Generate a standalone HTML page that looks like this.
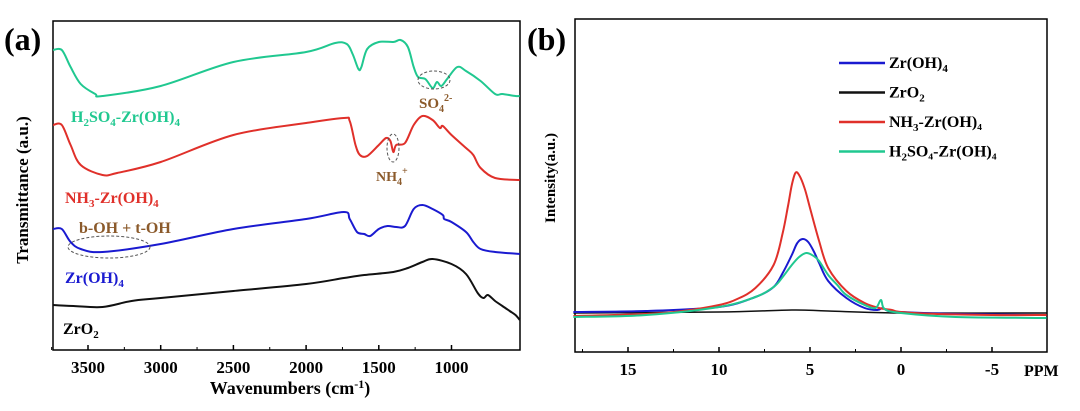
<!DOCTYPE html>
<html><head><meta charset="utf-8"><style>
body{margin:0;background:#fff;}
svg text{font-family:"Liberation Serif",serif;font-weight:bold;}
</style></head><body>
<svg id="c" width="1080" height="406" viewBox="0 0 1080 406" xmlns="http://www.w3.org/2000/svg">
<text x="4" y="50" font-size="32">(a)</text>
<text x="527" y="50" font-size="32">(b)</text>
<rect x="53" y="21" width="467" height="329" fill="none" stroke="#000" stroke-width="1.5"/>
<rect x="575" y="19" width="472" height="333" fill="none" stroke="#000" stroke-width="1.5"/>
<g id="axA"></g><g id="axB"></g><g id="linesA"></g><g id="linesB"></g>
<text transform="translate(28,190) rotate(-90)" text-anchor="middle" font-size="17">Transmittance (a.u.)</text>
<text x="290" y="394" text-anchor="middle" font-size="18">Wavenumbers (cm<tspan dy="-6" font-size="12">-1</tspan><tspan dy="6">)</tspan></text>
<text transform="translate(555,178) rotate(-90)" text-anchor="middle" font-size="15">Intensity(a.u.)</text>
<text x="1024" y="376" font-size="16">PPM</text>
<text x="71" y="122" font-size="16" fill="#20c890">H<tspan font-size="11" dy="4">2</tspan><tspan dy="-4">SO</tspan><tspan font-size="11" dy="4">4</tspan><tspan dy="-4">-Zr(OH)</tspan><tspan font-size="11" dy="4">4</tspan></text>
<text x="65" y="203" font-size="16" fill="#e0302a">NH<tspan font-size="11" dy="4">3</tspan><tspan dy="-4">-Zr(OH)</tspan><tspan font-size="11" dy="4">4</tspan></text>
<text x="79" y="233" font-size="16" fill="#8b5a2b">b-OH + t-OH</text>
<text x="65" y="283" font-size="16" fill="#1a1ad0">Zr(OH)<tspan font-size="11" dy="4">4</tspan></text>
<text x="63" y="334" font-size="16" fill="#000">ZrO<tspan font-size="11" dy="4">2</tspan></text>
<text x="419" y="108" font-size="15" fill="#8b5a2b">SO<tspan font-size="10" dy="4">4</tspan><tspan font-size="10" dy="-11">2-</tspan></text>
<text x="376" y="181" font-size="14" fill="#8b5a2b">NH<tspan font-size="10" dy="4">4</tspan><tspan font-size="10" dy="-11">+</tspan></text>
<ellipse cx="434" cy="80" rx="16" ry="9" fill="none" stroke="#555" stroke-dasharray="3,2"/>
<ellipse cx="393" cy="148" rx="6" ry="14" fill="none" stroke="#555" stroke-dasharray="3,2"/>
<ellipse cx="109" cy="247" rx="41" ry="11" fill="none" stroke="#555" stroke-dasharray="3,2"/>
<g id="legend"></g>
</svg>
<script>
const NS="http://www.w3.org/2000/svg";
// Panel A data
const wnA=[3740,3680,3620,3550,3450,3400,3000,2500,2000,1800,1720,1680,1640,1620,1580,1500,1400,1350,1300,1260,1230,1180,1130,1100,1070,1030,960,900,800,700,650,560,530];
const h2so4A=[300,300,283,266,256,254,264,288,298,307,306,296,281,283,301,308,308,310,303,283,273,271,262,268,264,271,283,279,269,256,256,254,254];
const wnRed=[3740,3680,3620,3550,3400,3300,3000,2500,2000,1740,1700,1660,1630,1580,1500,1450,1420,1400,1380,1320,1260,1200,1130,1080,1060,1000,900,850,800,700,530];
const nh3A=[225,225,205,185,175,177,188,215,227,232,229,205,195,194,205,212,209,198,205,207,225,234,230,222,224,215,202,195,182,172,170];
const wnBlue=[3740,3680,3620,3550,3400,3000,2500,2000,1740,1700,1650,1600,1560,1500,1440,1380,1320,1260,1200,1130,1060,1050,1000,900,850,800,700,530];
const zrohA=[121,121,108,101,98,106,121,131,138,131,118,116,114,121,124,123,124,141,145,141,135,131,128,118,108,101,98,96];
const wnBlack=[3740,3600,3400,3200,3000,2500,2000,1740,1600,1400,1300,1200,1130,1000,900,820,780,750,700,650,600,560,530];
const zro2A=[45,44,43,49,52,59,66,72,75,78,82,88,91,86,76,57,52,55,49,44,39,35,30];
const ticksA=[3500,3000,2500,2000,1500,1000];
// Panel B data
const ppmR=[18,14,12,10,9,8,7,6.5,6.2,6,5.8,5.6,5.3,5,4.5,4,3,2,1.2,0.5,0,-2,-5,-8];
const nh3B=[-3,-1,2,8,14,25,48,80,108,128,140,138,125,105,72,45,22,10,5,3,1,-1,-2,-2];
const ppmBl=[18,14,10,8,7,6.5,6,5.7,5.4,5.1,4.8,4.5,4,3,2,1.3,1.0,0.7,0,-3,-8];
const zrohB=[1,2,6,16,26,40,58,70,74,71,62,50,32,15,5,3,5,2,1,-1,-2];
const ppmG=[18,14,10,8,7,6.5,6,5.6,5.2,4.8,4.5,4,3.5,3,2,1.4,1.1,0.9,0,-3,-8];
const h2so4B=[-4,-2,6,16,26,36,48,56,60,57,52,38,28,18,8,5,13,4,0,-4,-5];
const ppmK=[18,10,6,4,0,-8];
const zro2B=[0,1,3,2,0,0];
const ticksB=[15,10,5,0,-5];

const xA=w=>88+(3500-w)*72.7/500;
const yA=v=>350-v;
const xB=p=>901-p*18.2;
const yB=v=>313-v;

function smooth(pts){
  let d="M"+pts[0][0].toFixed(1)+","+pts[0][1].toFixed(1);
  for(let i=0;i<pts.length-1;i++){
    const p0=pts[i-1]||pts[i],p1=pts[i],p2=pts[i+1],p3=pts[i+2]||p2;
    const c1=[p1[0]+(p2[0]-p0[0])/6,p1[1]+(p2[1]-p0[1])/6];
    const c2=[p2[0]-(p3[0]-p1[0])/6,p2[1]-(p3[1]-p1[1])/6];
    d+="C"+c1.map(v=>v.toFixed(1))+" "+c2.map(v=>v.toFixed(1))+" "+p2.map(v=>v.toFixed(1));
  }
  return d;
}
function path(g,xs,ys,fx,fy,col,name,w){
  const p=document.createElementNS(NS,"path");
  p.setAttribute("d",smooth(xs.map((x,i)=>[fx(x),fy(ys[i])])));
  p.setAttribute("fill","none");p.setAttribute("stroke",col);p.setAttribute("stroke-width",w||2);p.setAttribute("stroke-linejoin","round");
  
  
  document.getElementById(g).appendChild(p);
}
function ticks(g,vals,fx,yb,prefix,minorStep){
  const G=document.getElementById(g);
  vals.forEach(v=>{
    const l=document.createElementNS(NS,"line");
    l.setAttribute("x1",fx(v));l.setAttribute("x2",fx(v));l.setAttribute("y1",yb);l.setAttribute("y2",yb-5);l.setAttribute("stroke","#000");l.setAttribute("stroke-width","1.5");
    
    
    G.appendChild(l);
    const t=document.createElementNS(NS,"text");
    t.setAttribute("x",fx(v));t.setAttribute("y",yb+23);t.setAttribute("text-anchor","middle");t.setAttribute("font-size","17");
    t.textContent=v;
    
    
    G.appendChild(t);
    const m=document.createElementNS(NS,"line");
    const mv=v+minorStep;
    m.setAttribute("x1",fx(mv));m.setAttribute("x2",fx(mv));m.setAttribute("y1",yb);m.setAttribute("y2",yb-3);m.setAttribute("stroke","#000");
    
    
    G.appendChild(m);
  });
}
ticks("axA",ticksA,xA,350,"x-a",250);
ticks("axB",ticksB,xB,352,"x-b",2.5);
path("linesA",wnBlack,zro2A,xA,yA,"#111","zro2-ir");
path("linesA",wnBlue,zrohA,xA,yA,"#1a1ad0","zroh4-ir");
path("linesA",wnRed,nh3A,xA,yA,"#e0302a","nh3-ir");
path("linesA",wnA,h2so4A,xA,yA,"#20c890","h2so4-ir");
path("linesB",ppmK,zro2B,xB,yB,"#111","zro2-nmr",1.5);
path("linesB",ppmBl,zrohB,xB,yB,"#1a1ad0","zroh4-nmr");
path("linesB",ppmR,nh3B,xB,yB,"#e0302a","nh3-nmr");
path("linesB",ppmG,h2so4B,xB,yB,"#20c890","h2so4-nmr");
// legend
const legNames=[["Zr(OH)","4",""],["ZrO","2",""],["NH","3","-Zr(OH)₄"],["H","2","SO₄-Zr(OH)₄"]];
const legCols=["#1a1ad0","#111","#e0302a","#20c890"];
const LG=document.getElementById("legend");
legNames.forEach((n,i)=>{
  const y=63+i*29.5;
  const l=document.createElementNS(NS,"line");
  l.setAttribute("x1",839);l.setAttribute("x2",885);l.setAttribute("y1",y);l.setAttribute("y2",y);l.setAttribute("stroke",legCols[i]);l.setAttribute("stroke-width","2.5");
  
  
  LG.appendChild(l);
  const t=document.createElementNS(NS,"text");
  t.setAttribute("x",889);t.setAttribute("y",y+5);t.setAttribute("font-size","16");
  t.innerHTML=n[0]+'<tspan font-size="11" dy="4">'+n[1]+'</tspan><tspan dy="-4">'+n[2]+'</tspan>';
  
  
  LG.appendChild(t);
});
</script>
</body></html>
